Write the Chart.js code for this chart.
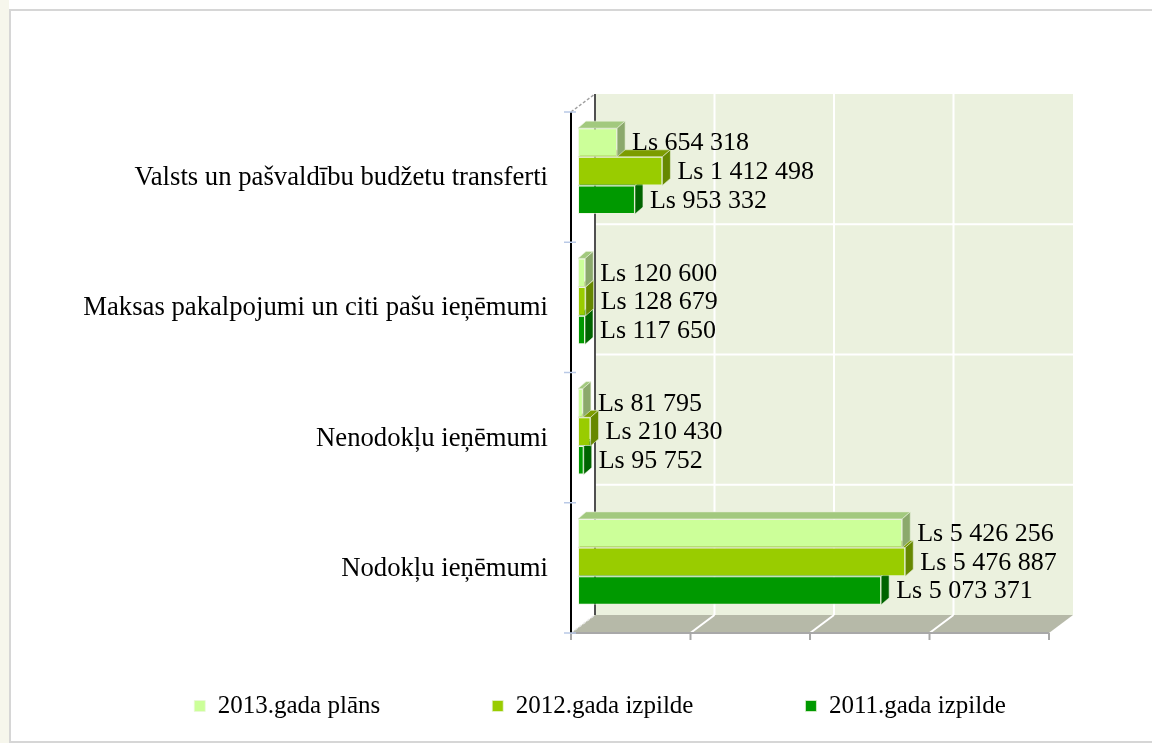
<!DOCTYPE html>
<html>
<head>
<meta charset="utf-8">
<script src="https://cdn.jsdelivr.net/npm/chart.js@4.4.1/dist/chart.umd.min.js"></script>
<style>
html,body{margin:0;padding:0;background:#fff;}
#wrap{position:relative;width:1152px;height:743px;}
</style>
</head>
<body>
<div id="wrap"><canvas id="c"></canvas></div>
<script>
// ---- data ----
const categories = [
  'Valsts un pašvaldību budžetu transferti',
  'Maksas pakalpojumi un citi pašu ieņēmumi',
  'Nenodokļu ieņēmumi',
  'Nodokļu ieņēmumi'
];
const seriesNames = ['2013.gada plāns', '2012.gada izpilde', '2011.gada izpilde'];
const plan2013 = [654318, 120600, 81795, 5426256];
const exec2012 = [1412498, 128679, 210430, 5476887];
const exec2011 = [953332, 117650, 95752, 5073371];
const gridValues = [0, 2000000, 4000000, 6000000, 8000000];

// ---- styles ----
const frontColors = ['#CCFF99', '#99CC00', '#009900'];
const topColors = ['#A2C97E', '#7C9C00', '#007C00'];
const sideColors = ['#8BA96C', '#668800', '#006400'];
const FONT = "'Liberation Serif', 'Times New Roman', serif";
const BAR_D = {dx: 8, dy: -7};
const FRONT = {dx: -7, dy: 6};
const BACK = {dx: 17, dy: -12};
const LEGEND = {font: 25, pad: 112, cx: 600, cy: 706};

function fmt(v) {
  return 'Ls ' + String(v).replace(/\B(?=(\d{3})+(?!\d))/g, ' ');
}

function poly(ctx, pts, fill, stroke) {
  ctx.beginPath();
  ctx.moveTo(pts[0][0], pts[0][1]);
  for (let i = 1; i < pts.length; i++) ctx.lineTo(pts[i][0], pts[i][1]);
  ctx.closePath();
  if (fill) { ctx.fillStyle = fill; ctx.fill(); }
  if (stroke) { ctx.strokeStyle = stroke; ctx.lineWidth = 1; ctx.stroke(); }
}
function line(ctx, x1, y1, x2, y2) {
  ctx.beginPath(); ctx.moveTo(x1, y1); ctx.lineTo(x2, y2); ctx.stroke();
}

const threeD = {
  id: 'threeD',
  afterLayout(chart) {
    const lg = chart.legend;
    if (!lg) return;
    const ih = LEGEND.font;
    const w = lg.width;
    lg.top = LEGEND.cy - LEGEND.pad - ih / 2;
    lg.bottom = chart.height;
    lg.height = lg.bottom - lg.top;
    lg.left = LEGEND.cx - w / 2;
    lg.right = lg.left + w;
  },
  beforeDraw(chart) {
    const ctx = chart.ctx;
    ctx.save();
    ctx.fillStyle = '#ffffff';
    ctx.fillRect(0, 0, chart.width, chart.height);
    ctx.fillStyle = '#F6F6EC';
    ctx.fillRect(0, 0, 9, chart.height);
    ctx.strokeStyle = '#D6D6D6';
    ctx.lineWidth = 2;
    ctx.strokeRect(10, 10, chart.width + 10, chart.height - 11);
    ctx.restore();
  },
  beforeDatasetsDraw(chart) {
    const {ctx, chartArea: ca, scales: {x}} = chart;
    const x0 = x.getPixelForValue(gridValues[0]);
    const x1 = x.getPixelForValue(gridValues[gridValues.length - 1]);
    const top = ca.top, bot = ca.bottom;
    const n = categories.length;
    const bw = (bot - top) / n;
    ctx.save();
    // back wall
    ctx.fillStyle = '#EBF1DE';
    ctx.fillRect(x0 + BACK.dx, top + BACK.dy, x1 - x0, bot - top);
    ctx.strokeStyle = '#ffffff';
    ctx.lineWidth = 2;
    for (let i = 1; i < n; i++) {
      const yy = top + BACK.dy + i * bw;
      line(ctx, x0 + BACK.dx, yy, x1 + BACK.dx, yy);
    }
    gridValues.slice(1, -1).forEach(v => {
      const xx = x.getPixelForValue(v) + BACK.dx;
      line(ctx, xx, top + BACK.dy, xx, bot + BACK.dy);
    });
    // floor
    poly(ctx, [
      [x0 + FRONT.dx, bot + FRONT.dy],
      [x1 + FRONT.dx, bot + FRONT.dy],
      [x1 + BACK.dx, bot + BACK.dy],
      [x0 + BACK.dx, bot + BACK.dy]
    ], '#B6B9A8');
    ctx.strokeStyle = '#ffffff';
    ctx.lineWidth = 2;
    gridValues.slice(1, -1).forEach(v => {
      const xx = x.getPixelForValue(v);
      line(ctx, xx + FRONT.dx, bot + FRONT.dy, xx + BACK.dx, bot + BACK.dy);
    });
    // floor front edge + ticks
    ctx.strokeStyle = '#A8A8A8';
    ctx.lineWidth = 2;
    line(ctx, x0 + FRONT.dx, bot + FRONT.dy, x1 + FRONT.dx, bot + FRONT.dy);
    gridValues.forEach(v => {
      const xx = x.getPixelForValue(v) + FRONT.dx;
      line(ctx, xx, bot + FRONT.dy, xx, bot + FRONT.dy + 7);
    });
    // back wall left edge
    ctx.strokeStyle = '#505050';
    ctx.lineWidth = 2;
    line(ctx, x0 + BACK.dx, top + BACK.dy, x0 + BACK.dx, bot + BACK.dy);
    // diagonal edges
    ctx.setLineDash([3, 2]);
    ctx.strokeStyle = '#A0A0A0';
    ctx.lineWidth = 1.5;
    line(ctx, x0 + FRONT.dx, top + FRONT.dy, x0 + BACK.dx, top + BACK.dy);
    ctx.strokeStyle = '#E8E8E8';
    line(ctx, x0 + FRONT.dx, bot + FRONT.dy, x0 + BACK.dx, bot + BACK.dy);
    ctx.setLineDash([]);
    // front vertical axis
    ctx.strokeStyle = '#000000';
    ctx.lineWidth = 2;
    line(ctx, x0 + FRONT.dx, top + FRONT.dy, x0 + FRONT.dx, bot + FRONT.dy);
    // category ticks
    ctx.strokeStyle = '#B9C9E6';
    ctx.lineWidth = 1.5;
    for (let i = 0; i <= n; i++) {
      const yy = top + FRONT.dy + i * bw;
      line(ctx, x0 + FRONT.dx - 7, yy, x0 + FRONT.dx + 5, yy);
    }
    ctx.restore();
  },
  afterDatasetDraw(chart, args) {
    const ctx = chart.ctx;
    const i = args.index;
    ctx.save();
    args.meta.data.forEach(bar => {
      const p = bar.getProps(['x', 'y', 'base', 'height'], true);
      const t = p.y - p.height / 2, b = p.y + p.height / 2;
      poly(ctx, [[p.base, t], [p.x, t], [p.x + BAR_D.dx, t + BAR_D.dy], [p.base + BAR_D.dx, t + BAR_D.dy]],
        topColors[i], 'rgba(230,240,215,0.6)');
      poly(ctx, [[p.x, t], [p.x + BAR_D.dx, t + BAR_D.dy], [p.x + BAR_D.dx, b + BAR_D.dy], [p.x, b]],
        sideColors[i], 'rgba(230,240,215,0.6)');
    });
    ctx.restore();
  },
  afterDatasetsDraw(chart) {
    const ctx = chart.ctx;
    ctx.save();
    ctx.font = '26px ' + FONT;
    ctx.fillStyle = '#000000';
    ctx.textAlign = 'left';
    ctx.textBaseline = 'middle';
    chart.data.datasets.forEach((ds, i) => {
      chart.getDatasetMeta(i).data.forEach((bar, j) => {
        const p = bar.getProps(['x', 'y'], true);
        ctx.fillText(fmt(ds.data[j]), p.x + BAR_D.dx + 7, p.y + 1);
      });
    });
    ctx.restore();
  }
};

Chart.defaults.font.family = FONT;
Chart.defaults.color = '#000000';

new Chart(document.getElementById('c'), {
  type: 'bar',
  data: {
    labels: categories,
    datasets: [
      {label: seriesNames[0], data: plan2013, backgroundColor: frontColors[0]},
      {label: seriesNames[1], data: exec2012, backgroundColor: frontColors[1]},
      {label: seriesNames[2], data: exec2011, backgroundColor: frontColors[2]}
    ].map(d => Object.assign(d, {
      borderColor: 'rgba(235,245,220,0.7)',
      borderWidth: 1,
      borderSkipped: false,
      categoryPercentage: 0.66,
      barPercentage: 1
    }))
  },
  options: {
    indexAxis: 'y',
    responsive: true,
    maintainAspectRatio: false,
    animation: false,
    layout: {padding: {left: 10, right: 96, top: 106, bottom: 0}},
    scales: {
      x: {
        type: 'linear',
        min: gridValues[0],
        max: gridValues[gridValues.length - 1],
        display: false
      },
      y: {
        type: 'category',
        position: 'left',
        grid: {display: false, drawTicks: false},
        border: {display: false},
        ticks: {
          font: {size: 26.7, family: FONT},
          color: '#000000',
          padding: 30,
          labelOffset: 7
        },
        afterFit(scale) { scale.width = 568; }
      }
    },
    plugins: {
      legend: {
        position: 'bottom',
        maxHeight: 116,
        labels: {
          font: {size: LEGEND.font, family: FONT},
          color: '#000000',
          boxWidth: 11,
          boxHeight: 11,
          padding: LEGEND.pad
        }
      },
      tooltip: {enabled: false}
    }
  },
  plugins: [threeD]
});
</script>
</body>
</html>
